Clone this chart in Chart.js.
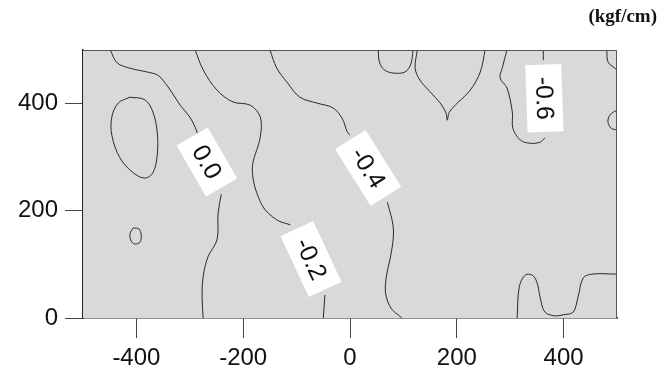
<!DOCTYPE html>
<html>
<head>
<meta charset="utf-8">
<script src="https://cdn.jsdelivr.net/npm/chart.js@4.4.1/dist/chart.umd.min.js"></script>
<style>
  html, body { margin: 0; padding: 0; background: #ffffff; }
  #wrap { width: 664px; height: 376px; position: relative; }
</style>
</head>
<body>
<div id="wrap"><canvas id="c" width="664" height="376"></canvas></div>
<script>
// ---- data (x in axis units, y in axis units) ----
const ticksX = [-400, -200, 0, 200, 400];
const ticksY = [0, 200, 400];
const unitLabel = '(kgf/cm)';

// contour 0.0 (split by its label)
const c00a = [[-449,500],[-436,476],[-412,466],[-380,459],[-360,453],[-346,438],[-333,420],[-318,397],[-300,375],[-290,356],[-286,345]];
const c00b = [[-241,231],[-247,196],[-249,146],[-266,114],[-275,77],[-277,39],[-275,0]];
// contour -0.2
const c02a = [[-290,500],[-275,463],[-249,425],[-219,403],[-187,397],[-168,375],[-168,338],[-183,276],[-165,211],[-137,183],[-112,174]];
const c02b = [[-47,43],[-50,0]];
// contour -0.4
const c04a = [[-150,500],[-137,466],[-118,440],[-94,412],[-62,401],[-32,392],[-15,373],[-5,347],[0,341]];
const c04b = [[70,216],[81,170],[79,132],[66,58],[75,21],[97,0]];
// contour -0.6
const c06a = [[294,500],[285,466],[281,448],[294,429],[304,384],[305,354],[319,332],[337,326],[356,328],[365,336]];
const c06b = [[362,481],[362,500]];
// other contour pieces
const cTopLoop = [[53,500],[55,478],[64,463],[81,457],[103,459],[114,474],[118,500]];
const cCusp = [[126,500],[122,466],[131,444],[150,422],[169,401],[180,382],[182,369],[186,384],[197,397],[225,425],[244,459],[253,500]];
const cRightTop = [[481,500],[483,478],[496,466],[500,463]];
const cRightBump = [[500,388],[487,379],[483,366],[489,354],[500,351]];
const cBottomRight = [[313,0],[317,58],[328,80],[341,80],[350,67],[356,39],[365,11],[384,4],[399,6],[418,11],[427,39],[437,75],[455,82],[496,82],[500,82]];
const cEllipse = [[-412,412],[-384,407],[-369,384],[-361,347],[-361,304],[-369,271],[-384,261],[-406,271],[-431,299],[-446,341],[-446,375],[-434,401],[-412,412]];
const cSmallLoop = [[-406,168],[-395,166],[-391,155],[-393,142],[-403,138],[-410,144],[-412,157],[-406,168]];

// contour labels
const labelText = ['0.0', '-0.2', '-0.4', '-0.6'];
const labelX = [-268, -73, 34, 364];
const labelY = [291, 110, 280, 410];
// ---------------------------------------------

const labelAngles = [60, 65, 58, 88];

const contours = [c00a, c00b, c02a, c02b, c04a, c04b, c06a, c06b, cTopLoop, cCusp,
                  cRightTop, cRightBump, cBottomRight, cEllipse, cSmallLoop];

const datasets = contours.map(arr => ({
  data: arr.map(p => ({ x: p[0], y: p[1] })),
  showLine: true,
  borderColor: '#2a2a2a',
  borderWidth: 1,
  pointRadius: 0,
  tension: 0.35,
  fill: false
}));

const bgPlugin = {
  id: 'bg',
  beforeDatasetsDraw(chart) {
    const { ctx, chartArea: a } = chart;
    ctx.save();
    ctx.fillStyle = '#d9d9d9';
    ctx.fillRect(a.left, a.top, a.right - a.left, a.bottom - a.top);
    ctx.restore();
  },
  afterDatasetsDraw(chart) {
    const { ctx, chartArea: a, scales } = chart;
    ctx.save();
    // contour labels
    ctx.font = '25px "Liberation Sans", Arial, sans-serif';
    ctx.textAlign = 'center';
    ctx.textBaseline = 'middle';
    labelText.forEach((t, i) => {
      const px = scales.x.getPixelForValue(labelX[i]);
      const py = scales.y.getPixelForValue(labelY[i]);
      const w = ctx.measureText(t).width + 24;
      const h = 36;
      ctx.save();
      ctx.translate(px, py);
      ctx.rotate(labelAngles[i] * Math.PI / 180);
      ctx.fillStyle = '#ffffff';
      ctx.fillRect(-w / 2, -h / 2, w, h);
      ctx.fillStyle = '#111111';
      ctx.fillText(t, 0, 1);
      ctx.restore();
    });
    // frame
    ctx.strokeStyle = '#555555';
    ctx.lineWidth = 1;
    ctx.beginPath();
    ctx.moveTo(a.left, a.top + 0.5);
    ctx.lineTo(a.right - 0.5, a.top + 0.5);
    ctx.lineTo(a.right - 0.5, a.bottom);
    ctx.stroke();
    ctx.restore();
  },
  afterDraw(chart) {
    const { ctx } = chart;
    ctx.save();
    ctx.font = 'bold 19px "Liberation Serif", "Times New Roman", serif';
    ctx.fillStyle = '#111111';
    ctx.textAlign = 'right';
    ctx.textBaseline = 'middle';
    ctx.fillText(unitLabel, 657, 17);
    ctx.restore();
  }
};

new Chart(document.getElementById('c'), {
  type: 'scatter',
  data: { datasets },
  options: {
    responsive: false,
    animation: false,
    layout: { padding: { top: 50, right: 47, left: 0, bottom: 0 } },
    plugins: { legend: { display: false }, tooltip: { enabled: false } },
    scales: {
      x: {
        type: 'linear', min: -500, max: 500,
        afterBuildTicks: s => { s.ticks = ticksX.map(v => ({ value: v })); },
        afterFit: s => { s.height = 58; },
        grid: { drawOnChartArea: false, drawTicks: true, tickLength: 20, color: '#444', lineWidth: 1 },
        border: { display: true, color: '#222', width: 1.5 },
        ticks: { color: '#111', font: { size: 24, family: '"Liberation Sans", Arial, sans-serif' }, padding: 6, maxRotation: 0 }
      },
      y: {
        type: 'linear', min: 0, max: 500,
        afterBuildTicks: s => { s.ticks = ticksY.map(v => ({ value: v })); },
        afterFit: s => { s.width = 83; },
        grid: { drawOnChartArea: false, drawTicks: true, tickLength: 18, color: '#444', lineWidth: 1 },
        border: { display: true, color: '#222', width: 1.5 },
        ticks: { color: '#111', font: { size: 24, family: '"Liberation Sans", Arial, sans-serif' }, padding: 7 }
      }
    }
  },
  plugins: [bgPlugin]
});
</script>
</body>
</html>
